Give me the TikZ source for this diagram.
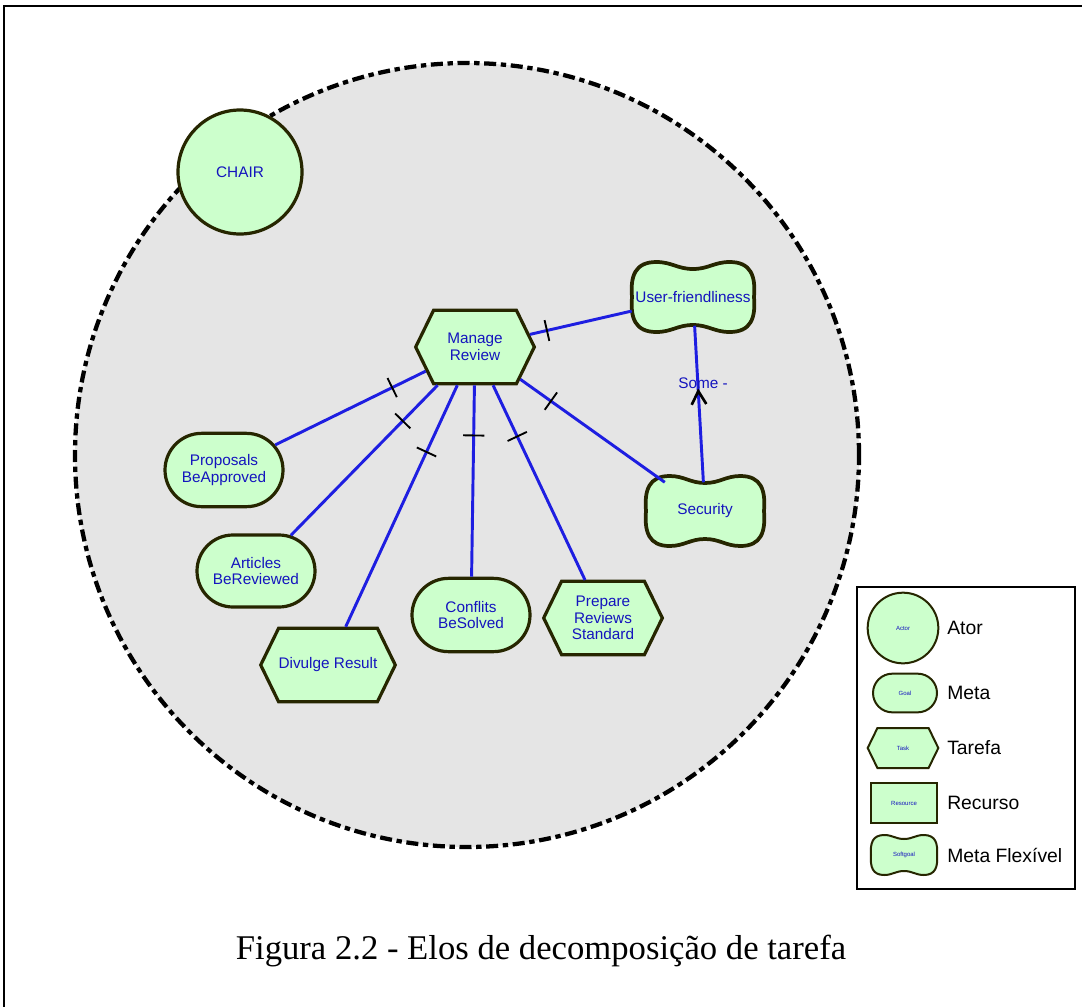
\documentclass[tikz,border=0pt]{standalone}
\usepackage{fontspec}
\setmainfont{Liberation Serif}
\newfontfamily\diagfont{Liberation Sans}
\usetikzlibrary{shapes.misc,shapes.symbols,calc,arrows.meta,decorations.markings}

\definecolor{goalfill}{RGB}{204,255,204}
\definecolor{goaledge}{RGB}{38,38,0}
\definecolor{linkblue}{RGB}{30,30,225}
\definecolor{labelblue}{RGB}{20,20,190}
\definecolor{regiongrey}{RGB}{229,229,229}

\tikzset{
  elem/.style={fill=goalfill, draw=goaledge, line width=2.4pt, text=labelblue,
    font=\diagfont\fontsize{11.5}{12.5}\selectfont, align=center, inner sep=0pt},
  actor/.style={elem, circle, minimum size=93pt},
  goal/.style={elem, rounded rectangle, minimum width=88.5pt, minimum height=55pt},
  task/.style={elem, signal, signal to=east and west, signal pointer angle=128,
    minimum width=89pt, minimum height=55pt},
  sgoutline/.style={fill=goalfill, draw=goaledge, line width=2.8pt},
  sglabel/.style={text=labelblue, font=\diagfont\fontsize{11.5}{12.5}\selectfont,
    align=center, inner sep=0pt},
  small/.style={line width=1.5pt, font=\diagfont\fontsize{4.5}{5}\selectfont},
  legendtext/.style={anchor=west, inner sep=0pt, font=\diagfont\fontsize{14.5}{16}\selectfont},
  link/.style={draw=linkblue, line width=2.2pt},
  tickmark/.style={draw=black, line width=1.4pt},
  boundary/.style={fill=regiongrey, draw=black, line width=3.2pt,
    dash pattern=on 9pt off 3.5pt on 4pt off 3.5pt},
}

% softgoal: [style]{name}{x}{y}{half width}{half height}{text}
\newcommand\sgshape[7][]{%
  \begin{scope}[shift={(#3,#4)}]
    \path[sgoutline,#1] (-.6*#5,-#6)
      .. controls (-.35*#5,-#6) and (-.25*#5,-.8*#6) .. (0,-.8*#6)
      .. controls (.25*#5,-.8*#6) and (.35*#5,-#6) .. (.6*#5,-#6)
      .. controls (.95*#5,-#6) and (1.03*#5,-.6*#6) .. (#5,0)
      .. controls (1.03*#5,.6*#6) and (.95*#5,#6) .. (.6*#5,#6)
      .. controls (.35*#5,#6) and (.25*#5,.8*#6) .. (0,.8*#6)
      .. controls (-.25*#5,.8*#6) and (-.35*#5,#6) .. (-.6*#5,#6)
      .. controls (-.95*#5,#6) and (-1.03*#5,.6*#6) .. (-#5,0)
      .. controls (-1.03*#5,-.6*#6) and (-.95*#5,-#6) .. cycle;
  \end{scope}
  \node[sglabel,#1,draw=none,fill=none,minimum width=1.5*#5 pt,minimum height=1.22*#6 pt] (#2) at (#3,#4) {#7};%
}

\begin{document}
\begin{tikzpicture}[x=0.75pt,y=-0.75pt]
  \useasboundingbox (0,0) rectangle (1082,1007);
  \clip (0,0) rectangle (1082,1007);
  \fill[white] (0,0) rectangle (1082,1007);
  \draw[line width=1.5pt] (4,6) rectangle (1110,1030);

  % actor boundary
  \draw[boundary] (467,455) circle[radius=294pt];

  % actor and intentional elements
  \node[actor] (chair) at (240,172) {CHAIR};
  \node[task] (mr) at (475,347) {Manage\\Review};
  \sgshape{uf}{693}{297}{61}{35}{User-friendliness}
  \sgshape{sec}{705}{511}{59}{35}{Security}
  \node[goal] (prop) at (224,470) {Proposals\\BeApproved};
  \node[goal, minimum height=54pt] (art) at (256,571) {Articles\\BeReviewed};
  \node[task] (div) at (328,665) {Divulge Result};
  \node[goal] (con) at (471,615) {Conflits\\BeSolved};
  \node[task] (prep) at (603,618) {Prepare\\Reviews\\Standard};

  % decomposition links with their bars
  \foreach \t in {uf,prop,art,div,con,prep,sec}{
    \draw[link] (mr) -- (\t);
    \draw[tickmark] ($(mr)!0.33!(\t)!8pt!90:(\t)$) -- ($(mr)!0.33!(\t)!8pt!-90:(\t)$);
  }

  % contribution link
  \draw[link, postaction={decorate}, decoration={markings,
      mark=at position 0.6 with {\arrow[black]{Straight Barb[length=10pt,width=11pt,line width=2pt]}}}]
    (sec) -- (uf);
  \node[sglabel] (some) at (703,383) {Some -};

  % legend
  \draw[line width=1.2pt] (857,587) rectangle (1075,889);
  \node[actor, small, minimum size=53pt] (lgactor) at (903,628) {Actor};
  \node[goal, small, minimum width=48pt, minimum height=29pt] (lggoal) at (905,693) {Goal};
  \node[task, small, minimum width=53pt, minimum height=30pt] (lgtask) at (903,748) {Task};
  \node[elem, small, rectangle, minimum width=49pt, minimum height=30pt] (lgres) at (904,803) {Resource};
  \sgshape[small]{lgsoft}{904}{855}{33}{20}{Softgoal}
  \node[legendtext] (tactor) at (947,628) {Ator};
  \node[legendtext] (tgoal) at (947,693) {Meta};
  \node[legendtext] (ttask) at (947,748) {Tarefa};
  \node[legendtext] (tres) at (947,803) {Recurso};
  \node[legendtext] (tsoft) at (947,855) {Meta Flexível};

  % caption
  \node[font=\fontsize{26}{30}\selectfont] (cap) at (541,951) {Figura 2.2 - Elos de decomposição de tarefa};
\end{tikzpicture}
\end{document}
